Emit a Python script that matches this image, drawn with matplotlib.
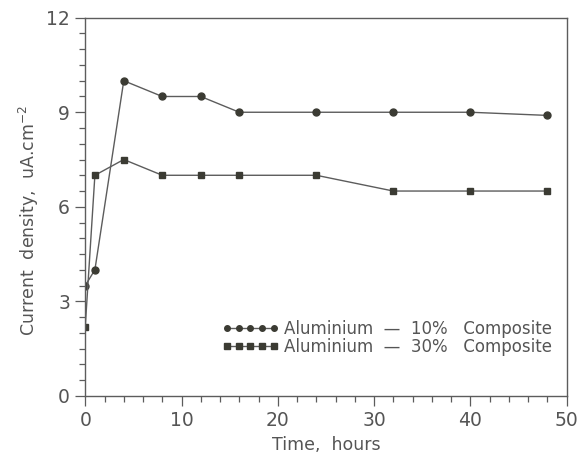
import matplotlib

matplotlib.use("Agg")
import matplotlib.pyplot as plt
from matplotlib.ticker import MultipleLocator

INK = "#555555"
LINE = "#5c5c5c"
MARK = "#3b3b33"

# time, hours
hours_10 = [0, 1, 4, 8, 12, 16, 24, 32, 40, 48]
hours_30 = [0, 1, 4, 8, 12, 16, 24, 32, 40, 48]
# current density, uA.cm^-2
current_10 = [3.5, 4.0, 10.0, 9.5, 9.5, 9.0, 9.0, 9.0, 9.0, 8.9]
current_30 = [2.2, 7.0, 7.5, 7.0, 7.0, 7.0, 7.0, 6.5, 6.5, 6.5]
labels = ["Aluminium  \u2014  10%   Composite", "Aluminium  \u2014  30%   Composite"]

plt.rcParams["font.family"] = ["DejaVu Sans"]

fig = plt.figure(figsize=(5.8, 4.54), dpi=100)
ax = fig.add_axes([0.147, 0.128, 0.830, 0.833])

ax.plot(hours_10, current_10, color=LINE, linewidth=1.0, marker="o",
        markersize=5, markerfacecolor=MARK, markeredgecolor=MARK, label=labels[0])
ax.plot(hours_30, current_30, color=LINE, linewidth=1.0, marker="s",
        markersize=4.6, markerfacecolor=MARK, markeredgecolor=MARK, label=labels[1])

ax.set_xlim(0, 50)
ax.set_ylim(0, 12)
ax.xaxis.set_major_locator(MultipleLocator(10))
ax.xaxis.set_minor_locator(MultipleLocator(2))
ax.yaxis.set_major_locator(MultipleLocator(3))
ax.yaxis.set_minor_locator(MultipleLocator(0.5))
ax.tick_params(which="major", direction="out", length=7, width=0.9,
               color=LINE, labelsize=13.5, labelcolor=INK, pad=4)
ax.tick_params(which="minor", direction="out", length=4.5, width=0.9, color=LINE)
for s in ax.spines.values():
    s.set_color(LINE)
    s.set_linewidth(1.0)

ax.set_xlabel("Time,  hours", fontsize=12.5, color=INK)
ax.set_ylabel("Current  density,  uA.cm$^{-2}$", fontsize=12.5, color=INK)
ax.xaxis.set_label_coords(0.5, -0.105)
ax.yaxis.set_label_coords(-0.092, 0.465)

ax.legend(loc="lower right", bbox_to_anchor=(1.0, 0.065), frameon=False,
          numpoints=5, handlelength=3.4, handletextpad=0.3, markerscale=0.8,
          labelspacing=0.0, fontsize=12, labelcolor=INK)

fig.savefig("out.png", dpi=100, facecolor="white")
